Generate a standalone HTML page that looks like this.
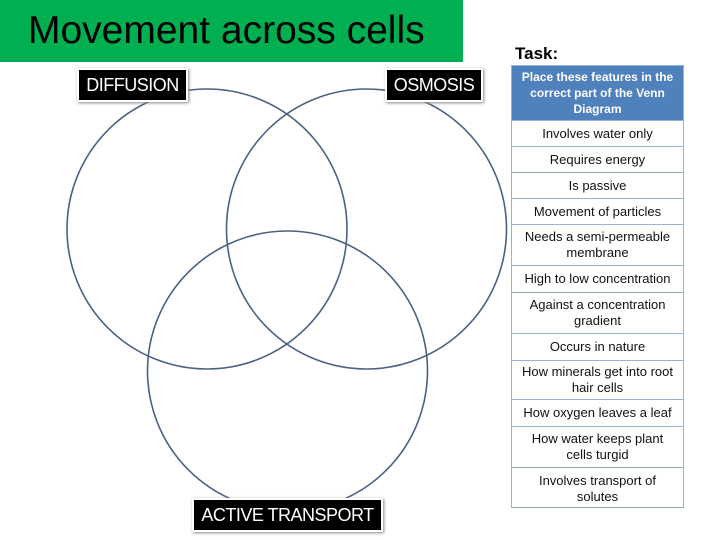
<!DOCTYPE html>
<html><head><style>
body{margin:0;width:720px;height:540px;background:#fff;position:relative;overflow:hidden;font-family:"Liberation Sans",sans-serif}
.title{position:absolute;left:0;top:0;width:463px;height:62px;background:#00b050;color:#000;font-size:39px;line-height:62px;padding-left:28px;box-sizing:border-box;white-space:nowrap}
.task{position:absolute;left:515px;top:44px;font-weight:bold;font-size:17px}
.lbl{position:absolute;background:#000;color:#fff;font-size:18px;line-height:30px;height:30px;text-align:center;border:2px solid #fff;box-shadow:1px 1px 3px #888;letter-spacing:-0.5px;white-space:nowrap;overflow:hidden}
.tbl{position:absolute;left:511px;top:65px;width:173px;height:443px;overflow:hidden;border:1px solid #95b3d7;box-sizing:border-box}
.r{position:absolute;left:0;width:171px;border-bottom:1px solid #95b3d7;text-align:center;font-size:13px;line-height:16px;color:#111;display:flex;align-items:center;justify-content:center;box-sizing:border-box}
</style></head><body>
<div class="title">Movement across cells</div>
<div class="task">Task:</div>
<svg width="720" height="540" style="position:absolute;left:0;top:0">
<g fill="none" stroke="#4a6283" stroke-width="1.6">
<circle cx="207" cy="229" r="140"/><circle cx="366.5" cy="229" r="140"/><circle cx="287.5" cy="371" r="140"/>
</g></svg>
<div class="lbl" style="left:77px;top:68px;width:107px">DIFFUSION</div>
<div class="lbl" style="left:385px;top:68px;width:94px">OSMOSIS</div>
<div class="lbl" style="left:192px;top:498px;width:187px">ACTIVE TRANSPORT</div>
<div class="tbl">
<div class="r" style="top:0;height:55px;background:#4f81bd;color:#fff;font-weight:bold;font-size:12px;line-height:16px;padding:0 4px">Place these features in the correct part of the Venn Diagram</div>
<div class="r" style="top:55px;height:26px">Involves water only</div>
<div class="r" style="top:81px;height:26px">Requires energy</div>
<div class="r" style="top:107px;height:26px">Is passive</div>
<div class="r" style="top:133px;height:26px">Movement of particles</div>
<div class="r" style="top:159px;height:41px;padding:0 6px">Needs a semi-permeable membrane</div>
<div class="r" style="top:200px;height:27px">High to low concentration</div>
<div class="r" style="top:227px;height:41px;padding:0 10px">Against a concentration gradient</div>
<div class="r" style="top:268px;height:27px">Occurs in nature</div>
<div class="r" style="top:295px;height:39px">How minerals get into root hair cells</div>
<div class="r" style="top:334px;height:27px">How oxygen leaves a leaf</div>
<div class="r" style="top:361px;height:41px;padding:0 14px">How water keeps plant cells turgid</div>
<div class="r" style="top:402px;height:41px;border-bottom:none;align-items:flex-start;padding:5px 18px 0">Involves transport of solutes</div>
</div>
</body></html>
